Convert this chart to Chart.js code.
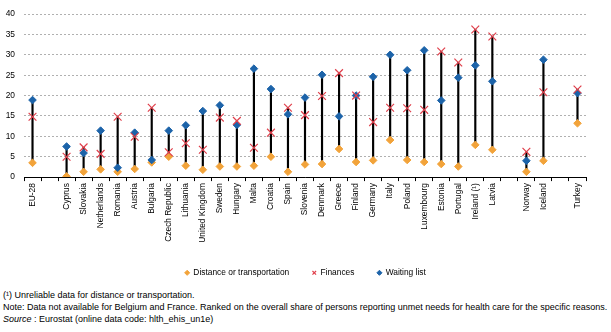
<!DOCTYPE html>
<html>
<head>
<meta charset="utf-8">
<script src="https://cdn.jsdelivr.net/npm/chart.js@4"></script>
<style>
    body { margin: 0; background: #fff; font-family: "Liberation Sans", Arial, sans-serif; }
    #wrap { position: relative; width: 611px; height: 287px; }
    .notes { position: absolute; left: 3px; top: 289px; font-size: 9px; line-height: 12.2px; color: #000; white-space: nowrap; }
</style>
</head>
<body>
<div id="wrap"><canvas id="chart"></canvas></div>
<div class="notes">
    (¹) Unreliable data for distance or transportation.<br>
    Note: Data not available for Belgium and France. Ranked on the overall share of persons reporting unmet needs for health care for the specific reasons.<br>
    <i>Source</i> : Eurostat (online data code: hlth_ehis_un1e)
</div>
<script>
// Pays (les cases vides sont des séparateurs)
const countries = ['EU-28', '', 'Cyprus', 'Slovakia', 'Netherlands', 'Romania', 'Austria', 'Bulgaria',
    'Czech Republic', 'Lithuania', 'United Kingdom', 'Sweden', 'Hungary', 'Malta', 'Croatia', 'Spain',
    'Slovenia', 'Denmark', 'Greece', 'Finland', 'Germany', 'Italy', 'Poland', 'Luxembourg', 'Estonia',
    'Portugal', 'Ireland (¹)', 'Latvia', '', 'Norway', 'Iceland', '', 'Turkey'];

const distance = [3.5, null, 0.2, 1.3, 1.9, 1.3, 2.0, 3.6, 5.0, 2.8, 1.8, 2.6, 2.6, 2.8, 5.0, 1.3,
    3.1, 3.2, 6.9, 3.7, 4.1, 9.1, 4.2, 3.7, 3.2, 2.6, 7.9, 6.7, null, 1.3, 4.0, null, 13.2];
const finances = [14.8, null, 5.0, 7.3, 5.7, 14.8, 9.9, 17.0, 6.1, 8.3, 6.7, 14.6, 13.8, 7.2, 10.9, 17.0,
    15.2, 19.9, 25.5, 20.0, 13.5, 17.0, 16.9, 16.5, 30.8, 28.1, 36.2, 34.5, null, 6.2, 20.8, null, 21.5];
const waiting = [18.9, null, 7.5, 5.9, 11.4, 2.3, 10.9, 4.2, 11.4, 12.7, 16.2, 17.6, 12.8, 26.6, 21.6, 15.4,
    19.5, 25.1, 14.9, 20.0, 24.6, 30.0, 26.2, 31.1, 18.8, 24.4, 27.4, 23.5, null, 4.0, 28.8, null, 20.6];

const yTicks = [0, 5, 10, 15, 20, 25, 30, 35, 40];
const legendOrder = ['Distance or transportation', 'Finances', 'Waiting list'];

// Trait vertical entre le min et le max de chaque pays
const ranges = countries.map((c, i) => {
    const vals = [distance[i], finances[i], waiting[i]].filter(v => v !== null);
    return vals.length ? [Math.min(...vals), Math.max(...vals)] : null;
});

Chart.defaults.font.family = '"Liberation Sans", Arial, sans-serif';
Chart.defaults.font.size = 8.4;
Chart.defaults.color = '#000';

const ctx = document.getElementById('chart').getContext('2d');
new Chart(ctx, {
    type: 'line',
    data: {
        labels: countries,
        datasets: [
            {
                label: 'Waiting list',
                data: waiting,
                showLine: false,
                pointStyle: 'rectRot',
                pointRadius: 3.8,
                pointBackgroundColor: '#1c63a9',
                pointBorderColor: '#1c63a9',
                backgroundColor: '#1c63a9',
                borderColor: '#1c63a9',
                order: 2
            },
            {
                label: 'Finances',
                data: finances,
                showLine: false,
                pointStyle: 'crossRot',
                pointRadius: 5.5,
                pointBorderWidth: 1.2,
                pointBorderColor: '#e0404c',
                backgroundColor: '#e0404c',
                borderColor: '#e0404c',
                order: 1
            },
            {
                label: 'Distance or transportation',
                data: distance,
                showLine: false,
                pointStyle: 'rectRot',
                pointRadius: 3.8,
                pointBackgroundColor: '#f2a33a',
                pointBorderColor: '#f2a33a',
                backgroundColor: '#f2a33a',
                borderColor: '#f2a33a',
                order: 3
            },
            {
                type: 'bar',
                label: 'range',
                data: ranges,
                backgroundColor: '#000',
                barThickness: 1.5,
                order: 10
            }
        ]
    },
    options: {
        responsive: true,
        maintainAspectRatio: false,
        animation: false,
        layout: { padding: { top: 8, right: 0, left: 0, bottom: 0 } },
        plugins: {
            tooltip: { enabled: false },
            legend: {
                position: 'bottom',
                labels: {
                    usePointStyle: true,
                    boxWidth: 4,
                    boxHeight: 3.6,
                    padding: 23,
                    filter: item => item.text !== 'range',
                    sort: (a, b) => legendOrder.indexOf(a.text) - legendOrder.indexOf(b.text)
                }
            }
        },
        scales: {
            x: {
                offset: true,
                grid: { display: true, drawOnChartArea: false, offset: true, color: '#000', tickLength: 4 },
                border: { display: true, color: '#000', width: 1 },
                ticks: { autoSkip: false, minRotation: 90, maxRotation: 90, padding: 2 },
                afterFit: scale => { scale.height = 68.5; }
            },
            y: {
                min: 0,
                max: 40,
                afterBuildTicks: scale => { scale.ticks = yTicks.map(v => ({ value: v })); },
                grid: { color: '#b0b0b0', drawTicks: false },
                border: { display: false, dash: [2, 2] },
                ticks: { padding: 9 },
                afterFit: scale => { scale.width = 24; }
            },
            // marge à droite, sans affichage
            yRight: {
                position: 'right',
                min: 0,
                max: 40,
                grid: { display: false },
                border: { display: false },
                ticks: { display: false },
                afterFit: scale => { scale.width = 25; }
            }
        }
    }
});
</script>
</body>
</html>
